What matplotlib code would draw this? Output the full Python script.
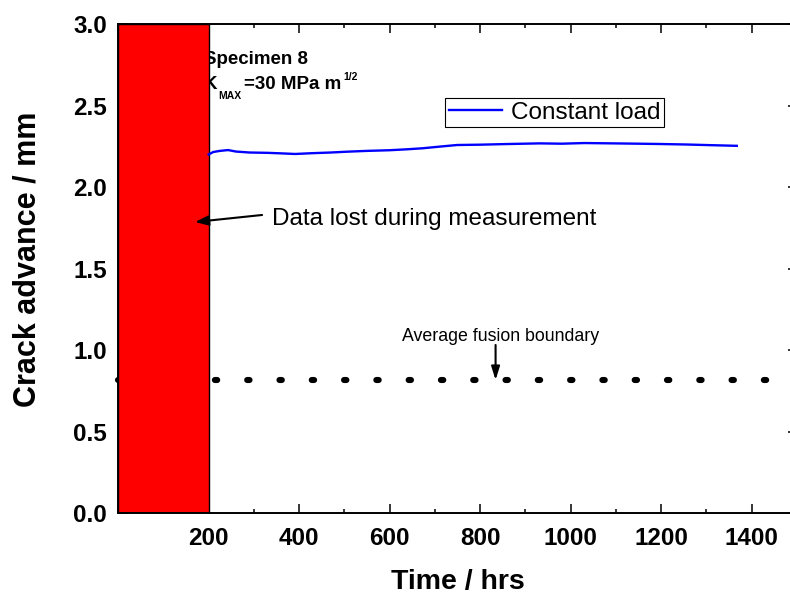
import matplotlib
matplotlib.use("Agg")
import matplotlib.pyplot as plt
from matplotlib.ticker import MultipleLocator

plt.rcParams["font.family"] = ["Liberation Sans", "DejaVu Sans"]
plt.rcParams["lines.scale_dashes"] = False

# Crack growth under constant load (time in hours, crack advance in mm)
time_hrs = [200, 210, 225, 243, 260, 290, 330, 358, 391, 430, 470, 506, 550,
            600, 640, 673, 710, 749, 800, 860, 932, 980, 1030, 1093, 1150,
            1200, 1257, 1310, 1367]
crack_mm = [2.200, 2.215, 2.222, 2.227, 2.218, 2.212, 2.210, 2.207, 2.203,
            2.208, 2.212, 2.217, 2.222, 2.226, 2.232, 2.238, 2.248, 2.258,
            2.260, 2.264, 2.268, 2.266, 2.270, 2.268, 2.266, 2.264, 2.261,
            2.257, 2.253]

# Period without data
lost_start = 0
lost_end = 200
lost_height = 3.0

# Average fusion boundary depth
fusion_mm = 0.82
fusion_span = [0, 1450]

x_ticks = [200, 400, 600, 800, 1000, 1200, 1400]
y_ticks = [0.0, 0.5, 1.0, 1.5, 2.0, 2.5, 3.0]

fig = plt.figure(figsize=(7.9, 5.95), dpi=100)
ax = fig.add_axes([0.1496, 0.1373, 0.8592, 0.8224])

# fusion boundary (drawn first so the red block hides its left part)
ax.plot(fusion_span, [fusion_mm, fusion_mm], color="black", lw=4.4,
        dashes=(1.7, 21.55), dash_capstyle="round", clip_on=False, zorder=1)

ax.bar(lost_start, lost_height, width=lost_end - lost_start, align="edge",
       color="#ff0000", edgecolor="black", linewidth=1.0, zorder=3)

ax.plot(time_hrs, crack_mm, color="#0000ff", lw=1.7, label="Constant load",
        zorder=4)

ax.set_xlim(0, 1500)
ax.set_ylim(0, 3.0)
ax.set_xticks(x_ticks)
ax.set_yticks(y_ticks)
ax.xaxis.set_minor_locator(MultipleLocator(100))
ax.set_xticklabels([str(v) for v in x_ticks], fontsize=17.5, fontweight="bold")
ax.set_yticklabels([f"{v:.1f}" for v in y_ticks], fontsize=17.5,
                   fontweight="bold")
ax.tick_params(which="both", direction="in", top=True, right=True, width=1.1)
ax.tick_params(which="major", length=6.5)
ax.tick_params(axis="x", which="major", pad=10)
ax.tick_params(axis="y", which="major", pad=8)
ax.tick_params(which="minor", length=3.2)
for s in ax.spines.values():
    s.set_linewidth(1.4)
    s.set_zorder(5)

ax.set_xlabel("Time / hrs", fontsize=20.5, fontweight="bold")
ax.set_ylabel("Crack advance / mm", fontsize=22, fontweight="bold")
ax.xaxis.set_label_coords(0.5, -0.114)
ax.yaxis.set_label_coords(-0.112, 0.52)

# specimen information block
ax.text(190, 2.755, "Specimen 8", fontsize=13.5, fontweight="bold",
        va="baseline", ha="left", zorder=2)
k_txt = ax.text(190, 2.6, "K", fontsize=13.5, fontweight="bold",
                va="baseline", ha="left", zorder=2)
k_sub = ax.annotate("MAX", xy=(1, 0), xycoords=k_txt, xytext=(0.5, -5.5),
                    textcoords="offset points", fontsize=7.5,
                    fontweight="bold", va="bottom", ha="left", zorder=2)
k_val = ax.annotate("=30 MPa m", xy=(1, 0), xycoords=(k_sub, k_txt),
                    xytext=(1.5, 0), textcoords="offset points",
                    fontsize=13.5, fontweight="bold", va="bottom", ha="left",
                    zorder=2)
ax.annotate("1/2", xy=(1, 1), xycoords=k_val, xytext=(1.5, 3),
            textcoords="offset points", fontsize=7.5, fontweight="bold",
            va="top", ha="left", zorder=2)

ax.annotate("", xy=(170, 1.786), xytext=(318, 1.829),
            arrowprops=dict(arrowstyle="-|>,head_length=0.8,head_width=0.3",
                            color="black", lw=1.5, shrinkA=0, shrinkB=0),
            zorder=6)
ax.text(340, 1.807, "Data lost during measurement", fontsize=17.5,
        va="center", ha="left")

ax.annotate("", xy=(834, 0.817), xytext=(834, 1.032),
            arrowprops=dict(arrowstyle="-|>,head_length=0.8,head_width=0.25",
                            color="black", lw=1.5, shrinkA=0, shrinkB=0),
            zorder=6)
ax.text(627, 1.081, "Average fusion boundary", fontsize=12.8,
        va="center", ha="left")

leg = ax.legend(loc="upper left", bbox_to_anchor=(445 / 790, 1 - 98 / 595),
                bbox_transform=fig.transFigure, fontsize=17.5, frameon=True,
                fancybox=False, edgecolor="black", framealpha=1,
                handlelength=2.2, handletextpad=0.35, borderpad=0.15,
                borderaxespad=0)
leg.get_frame().set_linewidth(0.8)

fig.savefig("out.png", dpi=100)
